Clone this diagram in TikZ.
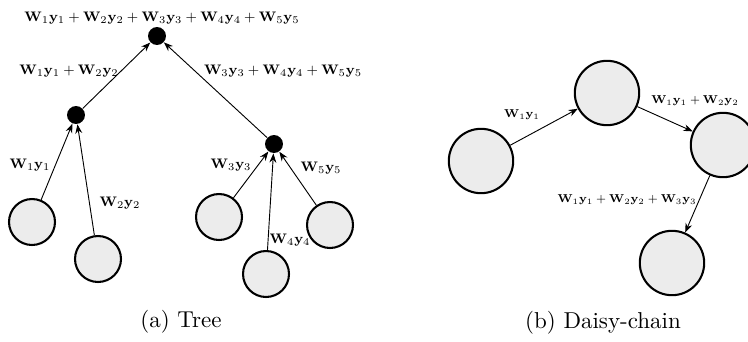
\documentclass[tikz,border=0pt]{standalone}
\usepackage{amsmath,amssymb}
\usepackage{graphicx}
\usetikzlibrary{arrows.meta}
\newcommand{\wy}[1]{\mathbf{W}_{#1}\mathbf{y}_{#1}}
\newcommand{\treelbl}[1]{\scalebox{0.75}{\footnotesize$#1$}}
\newcommand{\chainlbl}[1]{\scalebox{0.71}{\scriptsize$#1$}}

\begin{document}
\begin{tikzpicture}[x=0.435pt, y=-0.435pt, every node/.style={font=\normalsize},
	leaf/.style={circle, draw, line width=0.9pt, fill=gray!15, minimum size=20pt, inner sep=0pt},
	bigleaf/.style={leaf, minimum size=28pt},
	sum/.style={circle, fill=black, minimum size=7.8pt, inner sep=0pt},
	msg/.style={-{Stealth[length=4pt, width=3pt]}}]
	\useasboundingbox (0,0) rectangle (748,341);
	% (a) tree
	\node[sum] (root) at (157,36) {};
	\node[sum] (s12) at (76,115) {};
	\node[sum] (s345) at (274,144) {};
	\node[leaf] (l1) at (32,222) {};
	\node[leaf] (l2) at (98,259) {};
	\node[leaf] (l3) at (219,217) {};
	\node[leaf] (l4) at (266,274) {};
	\node[leaf] (l5) at (330,225) {};
	\draw[msg] (l1) -- (s12);
	\draw[msg] (l2) -- (s12);
	\draw[msg] (l3) -- (s345);
	\draw[msg] (l4) -- (s345);
	\draw[msg] (l5) -- (s345);
	\draw[msg] (s12) -- (root);
	\draw[msg] (s345) -- (root);
	\node (t-all) at (162,18) {\treelbl{\wy1+\wy2+\wy3+\wy4+\wy5}};
	\node (t-12) at (69,71) {\treelbl{\wy1+\wy2}};
	\node (t-345) at (283,71) {\treelbl{\wy3+\wy4+\wy5}};
	\node (t-1) at (30,165) {\treelbl{\wy1}};
	\node (t-2) at (120,203) {\treelbl{\wy2}};
	\node (t-3) at (231,165) {\treelbl{\wy3}};
	\node (t-4) at (290,240) {\treelbl{\wy4}};
	\node (t-5) at (321,168) {\treelbl{\wy5}};
	\node (cap-a) at (181,322) {(a) Tree};
	% (b) daisy-chain
	\node[bigleaf] (d1) at (481,161) {};
	\node[bigleaf] (d2) at (607,93) {};
	\node[bigleaf] (d3) at (723,145) {};
	\node[bigleaf] (d4) at (672,263) {};
	\draw[msg] (d1) -- (d2);
	\draw[msg] (d2) -- (d3);
	\draw[msg] (d3) -- (d4);
	\node (c-1) at (522,115) {\chainlbl{\wy1}};
	\node (c-2) at (695,101) {\chainlbl{\wy1+\wy2}};
	\node (c-3) at (627,200) {\chainlbl{\wy1+\wy2+\wy3}};
	\node (cap-b) at (603,323) {(b) Daisy-chain};
\end{tikzpicture}
\end{document}
